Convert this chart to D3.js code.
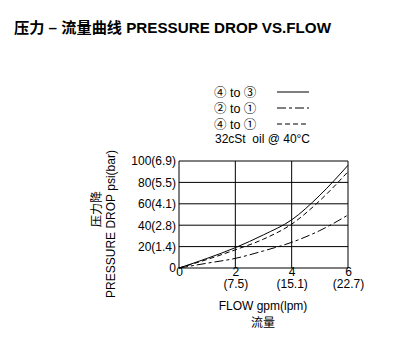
<!DOCTYPE html>
<html>
<head>
<meta charset="utf-8">
<script src="https://cdn.jsdelivr.net/npm/d3@7"></script>
<style>
  body { margin: 0; background: #fff; }
  text { font-family: "Liberation Sans", Arial, "Noto Sans CJK SC", sans-serif; fill: #000; }
</style>
</head>
<body>
<div id="chart"></div>
<script>
// Data
const flow = [0, 1, 2, 3, 4, 5, 6];                 // gpm
const flowLpm = ["", "(7.5)", "(15.1)", "(22.7)"];   // for ticks 0,2,4,6
const yTicks = [0, 20, 40, 60, 80, 100];
const yBar = ["", "(1.4)", "(2.8)", "(4.1)", "(5.5)", "(6.9)"];
const p4to3 = [0, 9, 19, 31, 45, 68, 96];
const p2to1 = [0, 4.5, 9, 16, 24, 35, 49.5];
const p4to1 = [0, 8, 17, 27, 41, 63, 90];

const series = [
    { name: "④ to ③", values: p4to3, dash: null },
    { name: "② to ①", values: p2to1, dash: "9,3,3,3" },
    { name: "④ to ①", values: p4to1, dash: "5,3" }
];

const width = 395;
const height = 362;

const svg = d3.select("#chart")
    .append("svg")
    .attr("width", width)
    .attr("height", height);

// Title
svg.append("text")
    .attr("x", 14)
    .attr("y", 33)
    .style("font-size", "15.2px")
    .style("font-weight", "bold")
    .text("压力 – 流量曲线 PRESSURE DROP VS.FLOW");

// Scales
const x = d3.scaleLinear().domain([0, 6]).range([179, 348]);
const y = d3.scaleLinear().domain([0, 100]).range([268, 161]);

// Grid
const grid = svg.append("g");
grid.selectAll("line.h")
    .data(yTicks)
    .enter().append("line")
    .attr("x1", x(0)).attr("x2", x(6))
    .attr("y1", d => y(d)).attr("y2", d => y(d))
    .attr("stroke", "#000").attr("stroke-width", 1);
grid.selectAll("line.v")
    .data([0, 2, 4, 6])
    .enter().append("line")
    .attr("x1", d => x(d)).attr("x2", d => x(d))
    .attr("y1", y(0)).attr("y2", y(100))
    .attr("stroke", "#000").attr("stroke-width", 1);

// Y axis labels
const yAxis = d3.axisLeft(y)
    .tickValues(yTicks)
    .tickSize(0)
    .tickPadding(3)
    .tickFormat((d, i) => d + yBar[i]);
svg.append("g")
    .attr("transform", `translate(${x(0)},0)`)
    .call(yAxis)
    .call(g => g.select(".domain").remove())
    .call(g => g.selectAll("text").style("font-size", "12px").style("font-family", "Liberation Sans, Arial, sans-serif"));

// X axis labels
const xAxis = d3.axisBottom(x)
    .tickValues([0, 2, 4, 6])
    .tickSize(0)
    .tickPadding(-1)
    .tickFormat(d3.format("d"));
const xg = svg.append("g")
    .attr("transform", `translate(0,${y(0)})`)
    .call(xAxis)
    .call(g => g.select(".domain").remove());
xg.selectAll("text")
    .style("font-size", "12px")
    .style("font-family", "Liberation Sans, Arial, sans-serif");
xg.selectAll(".tick")
    .append("text")
    .attr("y", 11)
    .attr("dy", "0.71em")
    .attr("text-anchor", "middle")
    .style("font-size", "12px")
    .text((d, i) => flowLpm[i]);

// Axis titles
svg.append("text")
    .attr("x", 263).attr("y", 310)
    .attr("text-anchor", "middle")
    .style("font-size", "12px")
    .text("FLOW gpm(lpm)");
svg.append("text")
    .attr("x", 263).attr("y", 327)
    .attr("text-anchor", "middle")
    .style("font-size", "12px")
    .text("流量");

svg.append("text")
    .attr("transform", "translate(115,224) rotate(-90)")
    .attr("text-anchor", "middle")
    .style("font-size", "12px")
    .text("PRESSURE DROP psi(bar)");
svg.append("text")
    .attr("transform", "translate(101,209) rotate(-90)")
    .attr("text-anchor", "middle")
    .style("font-size", "12px")
    .text("压力降");

// Curves
const line = d3.line()
    .x((d, i) => x(flow[i]))
    .y(d => y(d))
    .curve(d3.curveMonotoneX);

svg.selectAll("path.curve")
    .data(series)
    .enter().append("path")
    .attr("class", "curve")
    .attr("d", d => line(d.values))
    .attr("fill", "none")
    .attr("stroke", "#000")
    .attr("stroke-width", 1)
    .attr("stroke-dasharray", d => d.dash);

// Legend
const legend = svg.append("g");
const rows = legend.selectAll("g")
    .data(series)
    .enter().append("g")
    .attr("transform", (d, i) => `translate(0,${92 + i * 16})`);
rows.append("text")
    .attr("x", 214).attr("y", 5)
    .style("font-size", "12.5px")
    .text(d => d.name);
rows.append("line")
    .attr("x1", 277).attr("x2", 309)
    .attr("y1", 0).attr("y2", 0)
    .attr("stroke", "#000")
    .attr("stroke-width", 1)
    .attr("stroke-dasharray", d => d.dash);
legend.append("text")
    .attr("x", 215).attr("y", 143)
    .style("font-size", "12px")
    .style("white-space", "pre")
    .text("32cSt  oil @ 40°C");
</script>
</body>
</html>
